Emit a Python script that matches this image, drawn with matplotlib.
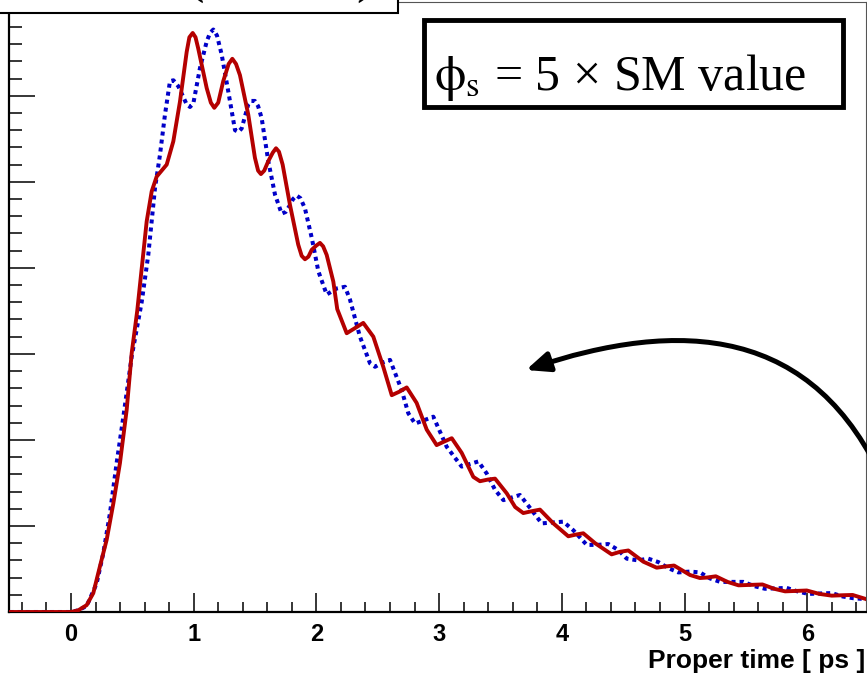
import matplotlib
matplotlib.use("Agg")
import matplotlib.pyplot as plt
from matplotlib.patches import Rectangle, FancyArrowPatch
from matplotlib.path import Path
from matplotlib.ticker import MultipleLocator

plt.rcParams['mathtext.fontset'] = 'stix'

t_red = [-0.5, 0.0, 0.06, 0.128, 0.182, 0.236, 0.291, 0.345, 0.399, 0.454, 0.495,
         0.54, 0.617, 0.658, 0.698, 0.78, 0.834, 0.888, 0.943, 0.965, 0.992, 1.015,
         1.037, 1.106, 1.14, 1.168, 1.20, 1.241, 1.285, 1.315, 1.345, 1.377,
         1.445, 1.499, 1.525, 1.548, 1.575, 1.608, 1.645, 1.671, 1.695, 1.725,
         1.785, 1.852, 1.88, 1.907, 1.935, 1.962, 2.0, 2.029, 2.055, 2.084,
         2.138, 2.17, 2.247, 2.315, 2.382, 2.464, 2.545, 2.614, 2.675, 2.736,
         2.817, 2.899, 2.98, 3.04, 3.103, 3.184, 3.279, 3.333, 3.40, 3.456,
         3.551, 3.62, 3.686, 3.75, 3.822, 3.931, 4.053, 4.115, 4.175, 4.271,
         4.406, 4.475, 4.542, 4.664, 4.773, 4.85, 4.915, 5.045, 5.125, 5.18,
         5.255, 5.35, 5.44, 5.535, 5.635, 5.73, 5.82, 5.91, 5.996, 6.1, 6.2,
         6.29, 6.37, 6.48]
v_red = [0, 0, 2, 8, 22, 53, 84, 126, 173, 235, 301,
         350, 454, 489, 506, 520, 547, 593, 651, 668, 673, 668,
         655, 609, 592, 586, 592, 617, 637, 643, 637, 624,
         578, 528, 513, 509, 513, 524, 534, 539, 535, 520,
         473, 427, 414, 410, 413, 421, 426, 429, 425, 415,
         384, 352, 324, 330, 336, 320, 285, 252, 256, 261,
         243, 212, 194, 198, 202, 185, 157, 152, 154, 155,
         138, 122, 115, 117, 119, 103, 88, 90, 91.5, 80,
         67, 70, 71.5, 58.5, 51.5, 53, 54, 43, 39.5, 40,
         41.5, 35, 31, 31.5, 32, 27, 24, 24.5, 25, 21, 19,
         19.5, 19.8, 15]

t_blue = [-0.5, 0.0, 0.06, 0.128, 0.209, 0.263, 0.318, 0.372, 0.427, 0.495, 0.576,
          0.63, 0.685, 0.725, 0.766, 0.807, 0.835, 0.875, 0.943, 0.97, 0.997,
          1.051, 1.106, 1.133, 1.16, 1.19, 1.228, 1.282, 1.337, 1.364, 1.391,
          1.445, 1.47, 1.499, 1.525, 1.554, 1.608, 1.663, 1.717, 1.75, 1.785,
          1.81, 1.839, 1.87, 1.907, 1.962, 2.016, 2.084, 2.165, 2.233, 2.274,
          2.355, 2.437, 2.478, 2.54, 2.6, 2.695, 2.749, 2.804, 2.88, 2.953,
          3.062, 3.184, 3.25, 3.32, 3.388, 3.456, 3.524, 3.59, 3.659, 3.741,
          3.836, 3.92, 4.012, 4.094, 4.203, 4.29, 4.379, 4.461, 4.529, 4.62,
          4.705, 4.787, 4.868, 4.95, 5.045, 5.126, 5.208, 5.29, 5.38, 5.479,
          5.57, 5.656, 5.745, 5.833, 5.92, 6.009, 6.1, 6.199, 6.29, 6.376, 6.48]
v_blue = [0, 0, 2, 7, 33, 68, 115, 173, 227, 297, 360,
          415, 493, 531, 578, 617, 618, 611, 590, 587, 591,
          632, 663, 673, 677, 670, 648, 605, 560, 558, 562,
          590, 594, 594, 588, 574, 524, 485, 463, 465, 473,
          480, 484, 481, 469, 435, 396, 369, 376, 378, 363,
          320, 289, 285, 290, 293, 258, 231, 219, 223, 227,
          192, 169, 172, 175, 161, 142, 130, 133, 136, 121,
          103, 104, 105, 95, 78, 78, 79, 72, 62, 60,
          62, 58, 51, 46, 47, 46, 39, 35, 35, 35,
          30, 27, 27.5, 28, 24, 21, 21.5, 22, 18, 16, 15]

x_ticks = [0, 1, 2, 3, 4, 5, 6]
x_label = 'Proper time [ ps ]'
box_text = r'$\mathrm{\phi}_\mathrm{s}$ = 5 × SM value'

W, H = 867, 679


def px(x, y):
    return (x / W, 1 - y / H)


fig = plt.figure(figsize=(W / 100, H / 100), dpi=100)
ax = fig.add_axes([9 / W, (H - 612) / H, (866 - 9) / W, (612 - 2) / H])

ax.plot(t_blue, v_blue, color='#0000C8', lw=2.9, ls=(0, (1, 1)),
        dash_capstyle='butt', zorder=3)
ax.plot(t_red, v_red, color='#B40000', lw=2.8, zorder=4,
        solid_joinstyle='round')

ax.set_xlim(-0.505, 6.479)
ax.set_ylim(0, 709)
ax.set_xticks(x_ticks)
ax.xaxis.set_minor_locator(MultipleLocator(0.2))
ax.yaxis.set_major_locator(MultipleLocator(100))
ax.yaxis.set_minor_locator(MultipleLocator(20))
ax.tick_params(axis='x', which='major', direction='in', length=13.7, width=1.1,
               pad=8, labelsize=17)
ax.tick_params(axis='x', which='minor', direction='in', length=7.2, width=1.1)
ax.tick_params(axis='y', which='major', direction='in', length=19, width=1.1,
               labelleft=False)
ax.tick_params(axis='y', which='minor', direction='in', length=9.4, width=1.1)
for lab in ax.get_xticklabels():
    lab.set_fontfamily('Liberation Sans')
    lab.set_fontweight('bold')

ax.spines['bottom'].set_linewidth(1.6)
ax.spines['left'].set_linewidth(1.6)
for s in ('top', 'right'):
    ax.spines[s].set_linewidth(0.8)
    ax.spines[s].set_color('#555555')

fig.text(*px(865, 668), x_label, ha='right', va='baseline', fontsize=19,
         fontweight='bold', family='Liberation Sans')

# title box (cut off at the top)
fig.add_artist(Rectangle(px(-5, 13), 403 / W, 20 / H, transform=fig.transFigure,
                         facecolor='white', edgecolor='black', lw=1.5, zorder=5))
fig.text(*px(195, -9), '(', ha='center', va='baseline', fontsize=40,
         family='Liberation Serif', zorder=6)
fig.text(*px(365, -9), ')', ha='center', va='baseline', fontsize=40,
         family='Liberation Serif', zorder=6)

# phi_s box
fig.add_artist(Rectangle(px(424, 107), 419 / W, 87 / H, transform=fig.transFigure,
                         facecolor='white', edgecolor='black', lw=3.5, zorder=5))
fig.text(*px(620, 90), box_text, ha='center', va='baseline', fontsize=36,
         family='Liberation Serif', zorder=6)

# curved arrow
verts = [px(885, 485), px(815, 325), px(680, 318), px(526, 370)]
codes = [Path.MOVETO, Path.CURVE4, Path.CURVE4, Path.CURVE4]
arrow = FancyArrowPatch(path=Path(verts, codes), transform=fig.transFigure,
                        arrowstyle='-|>,head_length=14,head_width=6',
                        mutation_scale=1, lw=3.6, color='black', zorder=6)
fig.add_artist(arrow)

fig.savefig('out.png', dpi=100)
